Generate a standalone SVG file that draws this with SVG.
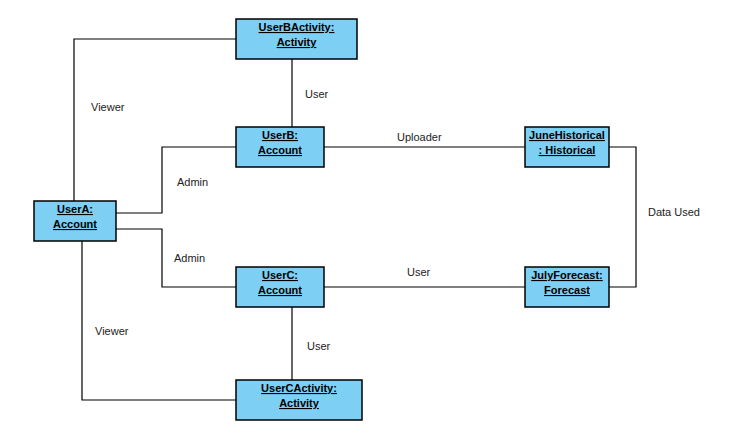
<svg xmlns="http://www.w3.org/2000/svg" width="741" height="442" viewBox="0 0 741 442">
<style>
.box{fill:#7ecff4;stroke:#000;stroke-width:1.5}
.nt{font-family:"Liberation Sans",Arial,sans-serif;font-size:11px;font-weight:bold;text-anchor:middle;text-decoration:underline;fill:#000}
.lbl{font-family:"Liberation Sans",Arial,sans-serif;font-size:11px;fill:#222}
.c{fill:none;stroke:#000;stroke-width:1.2}
</style>
<rect width="741" height="442" fill="#fff"/>
<g id="connectors">
<polyline class="c" points="74,201 74,39 236,39"/>
<polyline class="c" points="116,213 162,213 162,147 236,147"/>
<polyline class="c" points="116,229 162,229 162,287 236,287"/>
<polyline class="c" points="82,241 82,400 236,400"/>
<line class="c" x1="292" y1="59" x2="292" y2="127"/>
<line class="c" x1="292" y1="307" x2="292" y2="380"/>
<line class="c" x1="324" y1="147" x2="525" y2="147"/>
<line class="c" x1="324" y1="287" x2="525" y2="287"/>
<polyline class="c" points="609,147 636,147 636,287 609,287"/>
<text class="lbl" x="91" y="111">Viewer</text>
<text class="lbl" x="305" y="98">User</text>
<text class="lbl" x="177" y="186">Admin</text>
<text class="lbl" x="397" y="141">Uploader</text>
<text class="lbl" x="648" y="216">Data Used</text>
<text class="lbl" x="174" y="262">Admin</text>
<text class="lbl" x="407" y="276">User</text>
<text class="lbl" x="95" y="335">Viewer</text>
<text class="lbl" x="307" y="350">User</text>
</g>
<g id="userBActivity">
<rect class="box" x="236" y="19" width="121" height="40"/>
<text class="nt" x="296.5" y="31">UserBActivity:</text>
<text class="nt" x="296.5" y="46">Activity</text>
</g>
<g id="userB">
<rect class="box" x="236" y="127" width="88" height="40"/>
<text class="nt" x="280" y="139">UserB:</text>
<text class="nt" x="280" y="154">Account</text>
</g>
<g id="juneHistorical">
<rect class="box" x="525" y="127" width="84" height="40"/>
<text class="nt" x="567" y="139">JuneHistorical</text>
<text class="nt" x="567" y="154">: Historical</text>
</g>
<g id="userA">
<rect class="box" x="34" y="201" width="82" height="40"/>
<text class="nt" x="75" y="213">UserA:</text>
<text class="nt" x="75" y="228">Account</text>
</g>
<g id="userC">
<rect class="box" x="236" y="267" width="88" height="40"/>
<text class="nt" x="280" y="279">UserC:</text>
<text class="nt" x="280" y="294">Account</text>
</g>
<g id="julyForecast">
<rect class="box" x="525" y="267" width="84" height="40"/>
<text class="nt" x="567" y="279">JulyForecast:</text>
<text class="nt" x="567" y="294">Forecast</text>
</g>
<g id="userCActivity">
<rect class="box" x="236" y="380" width="126" height="40"/>
<text class="nt" x="299" y="392">UserCActivity:</text>
<text class="nt" x="299" y="407">Activity</text>
</g>
</svg>
